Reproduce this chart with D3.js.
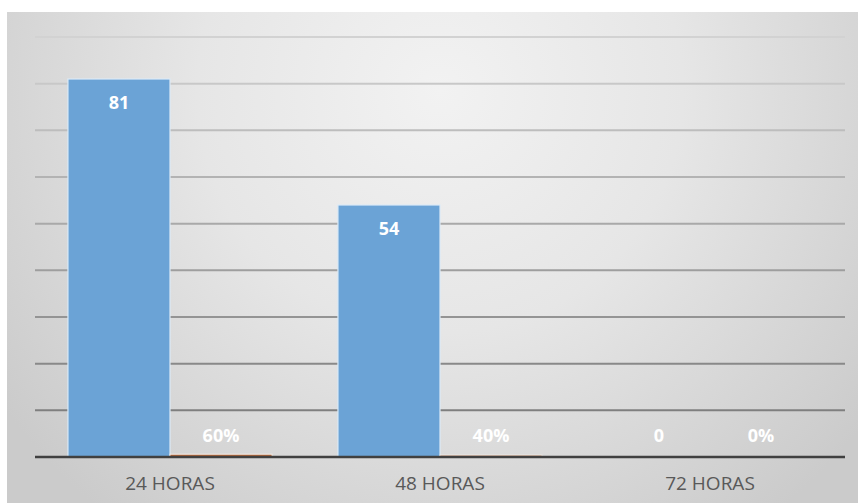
<!DOCTYPE html>
<html>
<head>
<meta charset="utf-8">
<script src="https://cdn.jsdelivr.net/npm/d3@7/dist/d3.min.js"></script>
<style>
  html, body { margin: 0; padding: 0; background: #ffffff; }
  svg { display: block; }
</style>
</head>
<body>
<svg id="chart" width="859" height="503"></svg>
<script>
// Response time buckets
const categories = ["24 HORAS", "48 HORAS", "72 HORAS"];
// Counts per bucket
const counts = [81, 54, 0];
// Share of total per bucket (plotted on the same axis, so it stays near zero)
const shares = [0.6, 0.4, 0];
const shareLabels = ["60%", "40%", "0%"];
const yTicks = [0, 10, 20, 30, 40, 50, 60, 70, 80, 90];

const W = 859, H = 503;
const svg = d3.select("#chart");
const defs = svg.append("defs");

const bg = defs.append("radialGradient")
  .attr("id", "bgGrad")
  .attr("gradientUnits", "userSpaceOnUse")
  .attr("cx", 440).attr("cy", 90).attr("r", 540);
bg.append("stop").attr("offset", "0%").attr("stop-color", "#f2f2f2");
bg.append("stop").attr("offset", "45%").attr("stop-color", "#e6e6e6");
bg.append("stop").attr("offset", "100%").attr("stop-color", "#cbcbcb");

// Chart area background
svg.append("rect")
  .attr("x", 7).attr("y", 12)
  .attr("width", W - 8).attr("height", H - 12)
  .attr("fill", "url(#bgGrad)");

const plot = { left: 35, right: 845, top: 37, bottom: 457 };

const x0 = d3.scaleBand()
  .domain(categories)
  .range([plot.left, plot.right])
  .paddingInner(0.244)
  .paddingOuter(0.122);

const seriesKeys = ["count", "share"];
const x1 = d3.scaleBand()
  .domain(seriesKeys)
  .range([0, x0.bandwidth()])
  .padding(0);

const y = d3.scaleLinear()
  .domain([0, 90])
  .range([plot.bottom, plot.top]);

// Gridlines darken toward the baseline
const gridColor = d3.scaleLinear()
  .domain([90, 10])
  .range(["#d2d2d2", "#7f7f7f"]);

svg.append("g")
  .selectAll("line")
  .data(yTicks.filter(t => t > 0))
  .join("line")
  .attr("x1", plot.left).attr("x2", plot.right)
  .attr("y1", d => y(d)).attr("y2", d => y(d))
  .attr("stroke", d => gridColor(d))
  .attr("stroke-width", 2);

const rows = categories.map((c, i) => ({
  cat: c, count: counts[i], share: shares[i], shareLabel: shareLabels[i]
}));

// Count bars
svg.append("g")
  .selectAll("rect")
  .data(rows)
  .join("rect")
  .attr("x", d => x0(d.cat) + x1("count"))
  .attr("y", d => y(d.count))
  .attr("width", x1.bandwidth())
  .attr("height", d => y(0) - y(d.count))
  .attr("fill", "#6ba3d6")
  .attr("stroke", "#dbeaf7")
  .attr("stroke-width", 1.2);

// Share bars
svg.append("g")
  .selectAll("rect")
  .data(rows)
  .join("rect")
  .attr("x", d => x0(d.cat) + x1("share"))
  .attr("y", d => y(d.share))
  .attr("width", x1.bandwidth())
  .attr("height", d => y(0) - y(d.share))
  .attr("fill", "#b5673a")
  .attr("stroke", "#f2ece6")
  .attr("stroke-width", 1);

// Baseline
svg.append("line")
  .attr("x1", plot.left).attr("x2", plot.right)
  .attr("y1", y(0)).attr("y2", y(0))
  .attr("stroke", "#404040")
  .attr("stroke-width", 2.5);

const labelFont = "'Segoe UI', 'Open Sans', 'DejaVu Sans', sans-serif";

function labelY(v) {
  const top = y(v);
  return Math.min(top + 30, y(0) - 15);
}

// Count labels
svg.append("g")
  .selectAll("text")
  .data(rows)
  .join("text")
  .attr("x", d => x0(d.cat) + x1("count") + x1.bandwidth() / 2)
  .attr("y", d => labelY(d.count))
  .attr("text-anchor", "middle")
  .attr("font-family", labelFont)
  .attr("font-weight", "bold")
  .attr("font-size", 18)
  .attr("fill", "#ffffff")
  .text(d => d.count);

// Share labels
svg.append("g")
  .selectAll("text")
  .data(rows)
  .join("text")
  .attr("x", d => x0(d.cat) + x1("share") + x1.bandwidth() / 2)
  .attr("y", d => labelY(d.share))
  .attr("text-anchor", "middle")
  .attr("font-family", labelFont)
  .attr("font-weight", "bold")
  .attr("font-size", 18)
  .attr("fill", "#ffffff")
  .text(d => d.shareLabel);

// Category axis
const xAxis = svg.append("g")
  .attr("transform", `translate(0,${y(0)})`)
  .call(d3.axisBottom(x0).tickSize(0).tickPadding(20));
xAxis.select(".domain").remove();
xAxis.selectAll("text")
  .attr("font-family", labelFont)
  .attr("font-size", 19)
  .attr("fill", "#595959");
</script>
</body>
</html>
